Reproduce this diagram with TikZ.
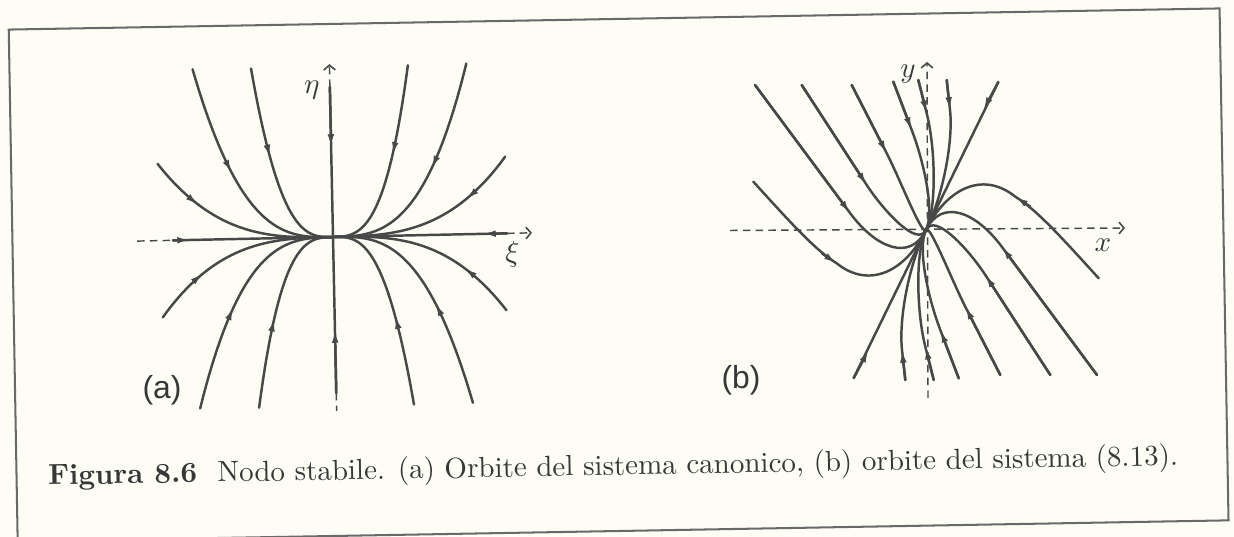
\documentclass[tikz,border=0pt]{standalone}
\usepackage{fontspec}
\newfontfamily\labfont{Liberation Sans}
\usetikzlibrary{arrows.meta}
\definecolor{pagebg}{RGB}{253,253,246}
\definecolor{ink}{RGB}{72,72,72}
\definecolor{frameink}{RGB}{105,105,105}
\definecolor{textink}{RGB}{55,55,55}
% orbit eta = c |xi|^3 : #1 xi end, #2 eta end, #3 parameter of the arrow tip
\newcommand\nodeorbit[3]{%
  \draw[traj] plot[variable=\t,domain=0:1,samples=60,smooth] ({#1*\t},{#2*\t*\t*\t});
  \draw[tr] ({#1*(#3+0.03)},{#2*(#3+0.03)*(#3+0.03)*(#3+0.03)}) -- ({#1*#3},{#2*#3*#3*#3});}
\newcommand\halforbits{%
  \draw[traj] (755,85) -- (850,213) .. controls (876.8,249.1) and (910.5,261.4) .. (926,230);
  \draw[tr] (755,85) -- (850,213);
  \draw[traj] (801.7,85) -- (866.7,185) .. controls (883,210) and (917.2,247.9) .. (926,230);
  \draw[tr] (801.7,85) -- (866.7,185);
  \draw[traj] (851.7,85) -- (886.7,153.3) .. controls (900.4,180) and (922.5,237.2) .. (926,230);
  \draw[tr] (851.7,85) -- (886.7,153.3);
  \draw[traj] (893.3,81.7) -- (911.7,130) .. controls (924.2,162.7) and (934.8,212) .. (926,230);
  \draw[tr] (893.3,81.7) -- (911.7,130);
  \draw[traj] (918.3,80) -- (926.7,113.3) .. controls (935.3,147.3) and (937,207.6) .. (926,230);
  \draw[tr] (918.3,80) -- (926.7,113.3);
  \draw[traj] (946.7,80) -- (950,110) .. controls (953.3,139.8) and (943.7,194.1) .. (926,230);
  \draw[tr] (946.7,80) -- (950,110);
  \draw[traj] (998.3,82) -- (926,230);
  \draw[tr] (998.3,82) -- (983.3,110);
  \draw[traj] (753.3,181.7) .. controls (790,222) and (815,250) .. (836.7,263.3)
     .. controls (870,290) and (906,270.4) .. (926,230);
  \draw[tr] (822,253.5) -- (836.7,263.3);}
\begin{document}
\begin{tikzpicture}[x=0.345pt,y=-0.345pt,
  traj/.style={line width=0.85pt,draw=ink,line cap=round},
  tr/.style={traj,-{Latex[length=4.4pt,width=2.3pt]}},
  axd/.style={line width=0.5pt,draw=ink,dash pattern=on 2.6pt off 1.8pt},
  axarrow/.style={-{Straight Barb[length=1.7pt,width=4pt,line width=0.55pt]}},
  lab/.style={font=\labfont\fontsize{11}{13}\selectfont,text=textink},
  mlab/.style={text=textink,inner sep=0pt}]
\path[use as bounding box,fill=pagebg] (0,0) rectangle (1234,537);
% frame and caption (scan is tilted by about one degree)
\begin{scope}[rotate around={1:(617,268)}]
  \draw[line width=0.7pt,draw=frameink] (13,19) rectangle (1224,531);
  \node[anchor=base west,text=textink,inner sep=0pt,rotate=1] (cap) at (44,475)
    {\textbf{Figura 8.6}\hspace{0.7em}Nodo stabile. (a) Orbite del sistema canonico, (b) orbite del sistema (8.13).};
\end{scope}
% ---------- panel (a) ----------
\begin{scope}[shift={(333,237)},rotate=1.2,yscale=-1]
  \draw[axd] (-196,0) -- (-160,0);
  \draw[axd,axarrow] (174,0) -- (199,0);
  \draw[axd,axarrow] (0,150) -- (0,173);
  \draw[axd] (0,-156) -- (0,-174);
  \draw[traj] (-160,0) -- (174,0);
  \draw[traj] (0,150) -- (0,-156);
  \draw[tr] (-160,0) -- (-143,0);
  \draw[tr] (174,0) -- (150,0);
  \draw[tr] (0,150) -- (0,90);
  \draw[tr] (0,-156) -- (0,-93);
  \nodeorbit{-137}{171}{0.73}
  \nodeorbit{137}{171}{0.73}
  \nodeorbit{-78.5}{170.5}{0.78}
  \nodeorbit{78.5}{170.5}{0.78}
  \nodeorbit{-174}{77}{0.77}
  \nodeorbit{174}{77}{0.77}
  \nodeorbit{-172}{-77}{0.76}
  \nodeorbit{172}{-77}{0.76}
  \nodeorbit{-136.5}{-169}{0.74}
  \nodeorbit{136.5}{-169}{0.74}
  \nodeorbit{-77.5}{-169.5}{0.78}
  \nodeorbit{77.5}{-169.5}{0.78}
  \node[mlab] (eta) at (-18,147) {$\eta$};
  \node[mlab] (xi) at (179,-21) {$\xi$};
\end{scope}
\node[lab] (la) at (162,390) {(a)};
% ---------- panel (b) ----------
\draw[axd,axarrow] (730,230.5) -- (1125,228);
\draw[axd,axarrow] (928,398) -- (927,62);
\halforbits
\begin{scope}[rotate around={180:(926,230)}]
  \halforbits
\end{scope}
\node[mlab] (ylab) at (908,74) {$y$};
\node[mlab] (xlab) at (1103,245) {$x$};
\node[lab] (lb) at (741,380) {(b)};
\end{tikzpicture}
\end{document}
